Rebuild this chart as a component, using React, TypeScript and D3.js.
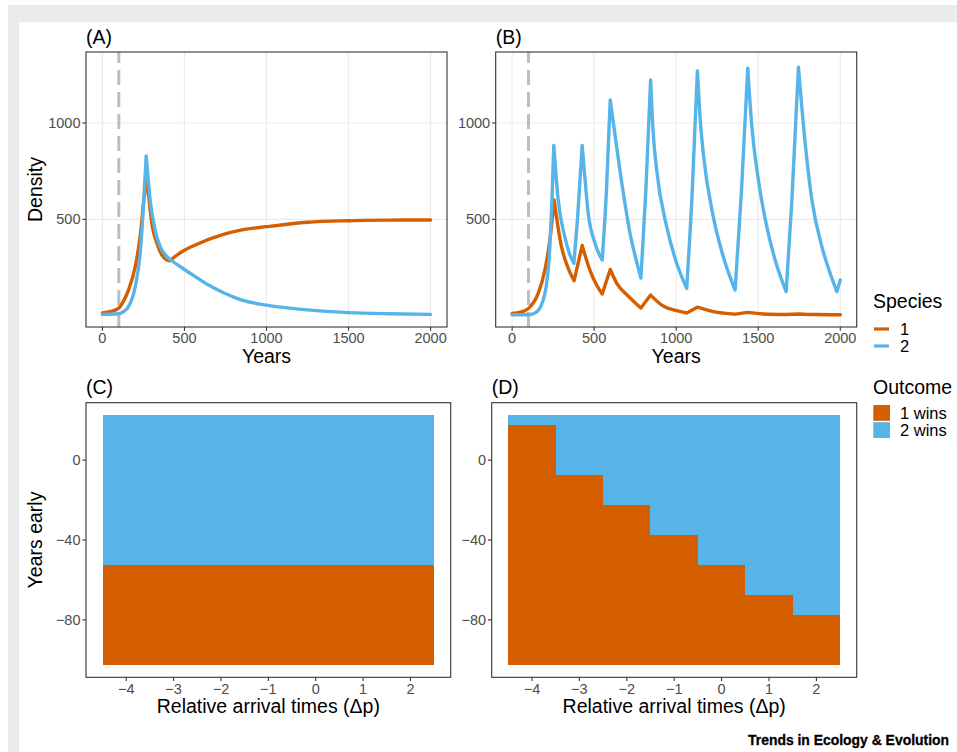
import React from 'react';
import * as d3 from 'd3';

const W = 957;
const H = 752;
const ORANGE = '#D55E00';
const BLUE = '#56B4E9';
const FONT = '"Liberation Sans", Arial, Helvetica, sans-serif';

// panel A: species densities through time
const yearsA1 = [0, 50, 98, 130, 159, 200, 230, 260, 271, 286, 301, 332, 362, 393, 410, 484, 566, 728, 850, 1000, 1250, 1500, 1750, 2000];
const densA1 = [15, 22, 38, 78, 133, 254, 410, 652, 700, 590, 480, 376, 315, 289, 285, 332, 367, 419, 445, 462, 485, 493, 496, 497];
const yearsA2 = [0, 98, 130, 159, 200, 230, 250, 267, 291, 321, 352, 393, 423, 484, 566, 647, 738, 850, 1000, 1250, 1500, 1750, 2000];
const densA2 = [7, 10, 22, 47, 150, 324, 566, 829, 600, 445, 358, 306, 285, 249, 203, 159, 119, 81, 55, 30, 16, 10, 7];

// panel B
const yearsB1 = [0, 50, 100, 159, 200, 230, 256, 301, 342, 378, 427, 474, 515, 549, 598, 640, 698, 759, 785, 844, 921, 1003, 1064, 1129, 1226, 1359, 1436, 1530, 1670, 1745, 1850, 2000];
const densB1 = [12, 18, 38, 116, 237, 393, 600, 358, 246, 182, 364, 237, 159, 113, 240, 165, 110, 60, 40, 107, 50, 26, 14, 44, 21, 8, 17, 9, 6, 9, 6, 5];
const yearsB2 = [0, 100, 150, 200, 230, 243, 254, 281, 321, 350, 376, 400, 427, 443, 464, 505, 549, 575, 598, 637, 678, 718, 759, 785, 815, 844, 860, 881, 942, 1003, 1064, 1098, 1129, 1145, 1165, 1226, 1287, 1359, 1398, 1436, 1461, 1501, 1552, 1603, 1670, 1705, 1745, 1786, 1827, 1888, 1938, 1979, 2000];
const densB2 = [5, 5, 20, 116, 358, 600, 883, 600, 410, 320, 272, 520, 883, 721, 531, 376, 289, 650, 1119, 877, 635, 430, 280, 195, 650, 1223, 947, 756, 462, 272, 142, 650, 1270, 1033, 843, 514, 306, 133, 650, 1284, 981, 704, 462, 289, 125, 600, 1290, 895, 600, 358, 220, 125, 185];

const introYear = 100;
const yearTicks = [0, 500, 1000, 1500, 2000];
const densityTicks = [500, 1000];

// panels C/D: outcome grid
const arrivalTimes = [-4, -3, -2, -1, 0, 1, 2];
const yearsEarly = [-100, -95, -90, -85, -80, -75, -70, -65, -60, -55, -50, -45, -40, -35, -30, -25, -20, -15, -10, -5, 0, 5, 10, 15, 20];
// highest "years early" value at which species 1 still wins, per arrival time
const lastWinC = [-55, -55, -55, -55, -55, -55, -55];
const lastWinD = [15, -10, -25, -40, -55, -70, -80];
const arrivalTicks = [-4, -3, -2, -1, 0, 1, 2];
const earlyTicks = [-80, -40, 0];

const speciesLabels = ['1', '2'];
const outcomeLabels = ['1 wins', '2 wins'];

const fmt = (v: number) => String(v).replace('-', '\u2212');

type Box = { left: number; top: number; width: number; height: number };

// split a series at its turning points so peaks and troughs stay sharp
function splitMonotone(xs: number[], ys: number[]) {
  const parts: [number, number][][] = [];
  let cur: [number, number][] = [[xs[0], ys[0]]];
  for (let i = 1; i < xs.length; i++) {
    cur.push([xs[i], ys[i]]);
    if (i < xs.length - 1) {
      const a = ys[i] - ys[i - 1];
      const b = ys[i + 1] - ys[i];
      if (a * b < 0) {
        parts.push(cur);
        cur = [[xs[i], ys[i]]];
      }
    }
  }
  parts.push(cur);
  return parts;
}

function Axes({ box, x, y, xt, yt, xTitle, yTitle, tag }: any) {
  const bottom = box.top + box.height;
  return (
    <g>
      <rect x={box.left} y={box.top} width={box.width} height={box.height} fill="none" stroke="#333" strokeWidth={1.1} />
      {xt.map((t: number) => (
        <g key={'x' + t}>
          <line x1={x(t)} x2={x(t)} y1={bottom} y2={bottom + 3.7} stroke="#333" strokeWidth={1.1} />
          <text x={x(t)} y={bottom + 16.3} textAnchor="middle" fontSize={14.5} fill="#4d4d4d">{fmt(t)}</text>
        </g>
      ))}
      {yt.map((t: number) => (
        <g key={'y' + t}>
          <line x1={box.left - 3.7} x2={box.left} y1={y(t)} y2={y(t)} stroke="#333" strokeWidth={1.1} />
          <text x={box.left - 5.5} y={y(t)} dy="0.35em" textAnchor="end" fontSize={14.5} fill="#4d4d4d">{fmt(t)}</text>
        </g>
      ))}
      <text x={box.left + box.width / 2} y={bottom + 36} textAnchor="middle" fontSize={19.5}>{xTitle}</text>
      {yTitle && (
        <text transform={`translate(41.5,${box.top + box.height / 2}) rotate(-90)`} textAnchor="middle" fontSize={19.5}>{yTitle}</text>
      )}
      <text x={box.left} y={box.top - 8.5} fontSize={19.5}>{tag}</text>
    </g>
  );
}

function TimePanel({ box, tag, yTitle, series }: { box: Box; tag: string; yTitle?: string; series: any[] }) {
  const x = d3.scaleLinear().domain([-100, 2100]).range([box.left, box.left + box.width]);
  const y = d3.scaleLinear().domain([-58.6, 1368.4]).range([box.top + box.height, box.top]);
  const bottom = box.top + box.height;
  const line = d3.line<[number, number]>().x(d => x(d[0])).y(d => y(d[1])).curve(d3.curveMonotoneX);
  return (
    <g>
      <rect x={box.left} y={box.top} width={box.width} height={box.height} fill="#fff" />
      {yearTicks.map(t => (
        <line key={'gv' + t} x1={x(t)} x2={x(t)} y1={box.top} y2={bottom} stroke="#ebebeb" strokeWidth={1.1} />
      ))}
      {densityTicks.map(t => (
        <line key={'gh' + t} x1={box.left} x2={box.left + box.width} y1={y(t)} y2={y(t)} stroke="#ebebeb" strokeWidth={1.1} />
      ))}
      <line x1={x(introYear)} x2={x(introYear)} y1={bottom} y2={box.top} stroke="#bebebe" strokeWidth={3} strokeDasharray="15 7" />
      {series.map((s, i) => (
        <path key={i} d={splitMonotone(s.years, s.values).map(p => line(p)).join('')} fill="none"
          stroke={s.color} strokeWidth={3.4} strokeLinejoin="round" strokeLinecap="round" />
      ))}
      <Axes box={box} x={x} y={y} xt={yearTicks} yt={densityTicks} xTitle="Years" yTitle={yTitle} tag={tag} />
    </g>
  );
}

function OutcomePanel({ box, tag, yTitle, lastWin }: { box: Box; tag: string; yTitle?: string; lastWin: number[] }) {
  const x = d3.scaleLinear().domain([-4.85, 2.85]).range([box.left, box.left + box.width]);
  const y = d3.scaleLinear().domain([-108.75, 28.75]).range([box.top + box.height, box.top]);
  const cells: { t: number; e: number; win: number }[] = [];
  arrivalTimes.forEach((t, i) => {
    yearsEarly.forEach(e => cells.push({ t, e, win: e <= lastWin[i] ? 1 : 2 }));
  });
  return (
    <g>
      <rect x={box.left} y={box.top} width={box.width} height={box.height} fill="#fff" />
      <g shapeRendering="crispEdges">
        {cells.map((c, i) => (
          <rect key={i} x={x(c.t - 0.5)} y={y(c.e + 2.5)} width={x(c.t + 0.5) - x(c.t - 0.5) + 0.3}
            height={y(c.e - 2.5) - y(c.e + 2.5) + 0.3} fill={c.win === 1 ? ORANGE : BLUE} />
        ))}
      </g>
      <Axes box={box} x={x} y={y} xt={arrivalTicks} yt={earlyTicks} xTitle="Relative arrival times (Δp)" yTitle={yTitle} tag={tag} />
    </g>
  );
}

export default function App() {
  const boxA = { left: 86, top: 52, width: 361, height: 275 };
  const boxB = { left: 495.7, top: 52, width: 361, height: 275 };
  const boxC = { left: 86, top: 402.7, width: 364.7, height: 274.6 };
  const boxD = { left: 491.7, top: 402.7, width: 365, height: 274.6 };
  const colors = [ORANGE, BLUE];
  return (
    <svg width={W} height={H} style={{ position: 'absolute', left: 0, top: 0, display: 'block' }} fontFamily={FONT}>
      <rect width={W} height={H} fill="#fff" />
      <rect x={8} y={5} width={W - 8} height={H - 5} fill="#ebebed" />
      <rect x={19} y={22} width={W - 19} height={H - 22} fill="#fff" />

      <TimePanel box={boxA} tag="(A)" yTitle="Density" series={[
        { years: yearsA1, values: densA1, color: ORANGE },
        { years: yearsA2, values: densA2, color: BLUE },
      ]} />
      <TimePanel box={boxB} tag="(B)" series={[
        { years: yearsB1, values: densB1, color: ORANGE },
        { years: yearsB2, values: densB2, color: BLUE },
      ]} />
      <OutcomePanel box={boxC} tag="(C)" yTitle="Years early" lastWin={lastWinC} />
      <OutcomePanel box={boxD} tag="(D)" lastWin={lastWinD} />

      {/* legends */}
      <text x={873} y={308} fontSize={19.5}>Species</text>
      {speciesLabels.map((l, i) => (
        <g key={l}>
          <line x1={874} x2={889} y1={329 + i * 17} y2={329 + i * 17} stroke={colors[i]} strokeWidth={3.2} />
          <text x={900} y={329 + i * 17} dy="0.35em" fontSize={16.5}>{l}</text>
        </g>
      ))}
      <text x={873} y={394} fontSize={19.5}>Outcome</text>
      {outcomeLabels.map((l, i) => (
        <g key={l}>
          <rect x={873.3} y={405 + i * 17.2} width={16.7} height={15.8} fill={colors[i]} />
          <text x={900} y={413 + i * 17.5} dy="0.35em" fontSize={16.5}>{l}</text>
        </g>
      ))}

      <text x={748} y={745} fontSize={14.5} fontWeight="bold" stroke="#000" strokeWidth={0.3}
        textLength={201} lengthAdjust="spacingAndGlyphs">Trends in Ecology &amp; Evolution</text>
    </svg>
  );
}
